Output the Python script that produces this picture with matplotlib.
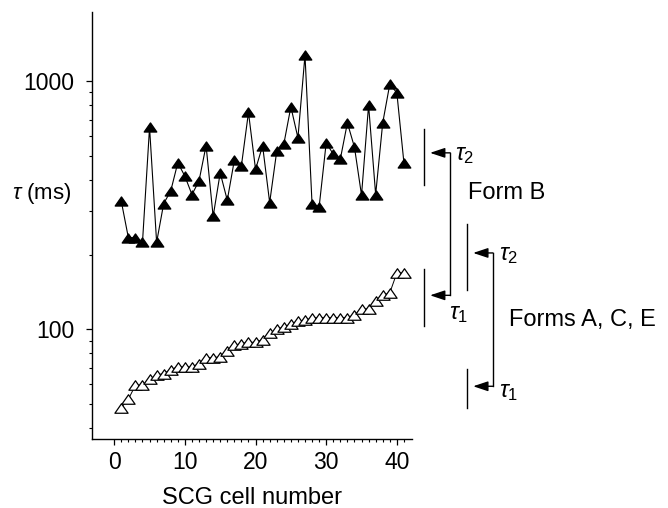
import numpy as np
import matplotlib
matplotlib.use("Agg")
import matplotlib.pyplot as plt
from matplotlib.path import Path
from matplotlib.ticker import FixedLocator, NullFormatter, FixedFormatter

plt.rcParams['font.family'] = ['Liberation Sans', 'DejaVu Sans']
plt.rcParams['mathtext.fontset'] = 'custom'
plt.rcParams['mathtext.rm'] = 'Liberation Sans'
plt.rcParams['mathtext.it'] = 'Liberation Sans:italic'

# SCG cell number, one point per cell
cells = np.arange(1, 42)

# time constants (ms)
tau_b_filled = [328, 234, 234, 224, 651, 224, 321, 361, 469, 414,
                349, 396, 550, 285, 427, 331, 480, 456, 748, 441,
                549, 324, 522, 557, 788, 591, 1273, 319, 311, 564,
                508, 485, 679, 542, 347, 800, 349, 679, 972, 897, 469]
tau_open = [48.3, 52.2, 59.5, 59.5, 62.9, 65.4, 66.3, 68.8, 70.5, 70.5,
            70.5, 72.7, 76.9, 76.9, 77.4, 81.7, 86.2, 87.6, 88.6, 88.6,
            90.9, 96.6, 100, 102.2, 104.8, 108, 108.7, 111, 111.5, 111.5,
            111.5, 111.5, 111.5, 114.2, 120.4, 121.2, 130.1, 137.1, 140.1, 168.7, 168.7]

# range bars and mean arrows on the right (ms)
form_b_tau2 = (381, 514, 640)      # low, mean, high
form_b_tau1 = (103, 137, 175)
ace_tau2 = (144, 203, 265)
ace_tau1 = (48, 58.9, 69)

y_major = [100, 1000]
y_major_labels = ['100', '1000']
x_major = [0, 10, 20, 30, 40]

fig = plt.figure(figsize=(6.68, 5.08), dpi=100)
ax = fig.add_axes([0.1382, 0.1352, 0.4781, 0.8412])

# slightly flattened, closed triangle
tri = Path([(0, 0.72), (-1, -0.72), (1, -0.72), (0, 0.72)],
           [Path.MOVETO, Path.LINETO, Path.LINETO, Path.CLOSEPOLY])
ax.plot(cells, tau_b_filled, color='black', lw=0.8, marker=tri, ms=9,
        mfc='black', mec='black', zorder=3)
ax.plot(cells, tau_open, color='black', lw=0.7, marker=tri, ms=9.5,
        mfc='white', mec='black', mew=0.9, zorder=3)

ax.set_yscale('log')
ax.set_ylim(36, 1900)
ax.set_xlim(-3.1, 42.1)

ax.yaxis.set_major_locator(FixedLocator(y_major))
ax.yaxis.set_major_formatter(FixedFormatter(y_major_labels))
minors = [m * d for d in (10, 100, 1000) for m in range(2, 10)]
ax.yaxis.set_minor_locator(FixedLocator(minors))
ax.yaxis.set_minor_formatter(NullFormatter())
ax.set_xticks(x_major)
ax.set_xticks(np.arange(0, 42), minor=True)

for s in ['top', 'right']:
    ax.spines[s].set_visible(False)
for s in ['left', 'bottom']:
    ax.spines[s].set_linewidth(1.0)

ax.tick_params(axis='y', which='major', length=4, width=0.9, pad=9, labelsize=16.5)
ax.tick_params(axis='y', which='minor', length=2.5, width=0.8)
ax.tick_params(axis='x', which='major', length=4.5, width=0.9, pad=4, labelsize=16.5)
ax.tick_params(axis='x', which='minor', length=2.5, width=0.8)

ax.set_xlabel('SCG cell number', fontsize=17, labelpad=9)
fig.text(12 / 668, 1 - 193 / 508, r'$\tau$ (ms)', fontsize=16, ha='left', va='center')


def bracket(x_bar, x_tip, x_join, lo_set, hi_set):
    # range bars for both constants, then the joined arrows to their means
    for lo, mean, hi in (lo_set, hi_set):
        ax.plot([x_bar, x_bar], [lo, hi], color='black', lw=1.0, clip_on=False)
    ax.plot([x_join, x_join], [lo_set[1], hi_set[1]], color='black', lw=1.0, clip_on=False)
    for lo, mean, hi in (hi_set, lo_set):
        ax.annotate('', xy=(x_tip, mean), xytext=(x_join, mean),
                    arrowprops=dict(arrowstyle='-|>,head_length=0.6,head_width=0.2',
                                    color='black', lw=1.0, mutation_scale=15,
                                    shrinkA=0, shrinkB=0),
                    annotation_clip=False)


bracket(43.9, 44.7, 47.55, form_b_tau1, form_b_tau2)
bracket(49.9, 50.8, 53.6, ace_tau1, ace_tau2)

ax.text(48.3, 505, r'$\tau_2$', fontsize=17, ha='left', va='center', clip_on=False)
ax.text(47.4, 115, r'$\tau_1$', fontsize=17, ha='left', va='center', clip_on=False)
ax.text(54.5, 199, r'$\tau_2$', fontsize=17, ha='left', va='center', clip_on=False)
ax.text(54.5, 56, r'$\tau_1$', fontsize=17, ha='left', va='center', clip_on=False)

ax.text(50.1, 353, 'Form B', fontsize=17, ha='left', va='center', clip_on=False)
ax.text(55.9, 109, 'Forms A, C, E', fontsize=17, ha='left', va='center', clip_on=False)

fig.savefig('out.png', dpi=100)
